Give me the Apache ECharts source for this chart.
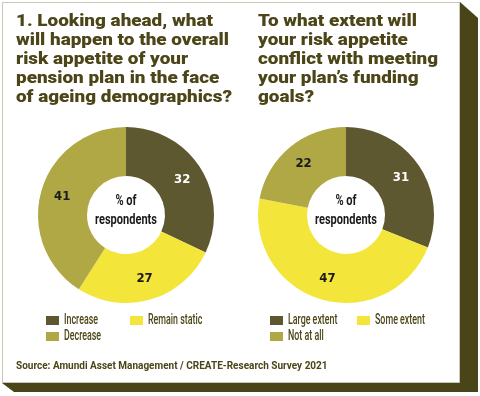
<!DOCTYPE html>
<html><head><meta charset="utf-8">
<script src="https://cdn.jsdelivr.net/npm/echarts@6/dist/echarts.min.js"></script>
<style>html,body{margin:0;padding:0;background:#fff;}#c{width:480px;height:396px;}</style>
</head><body><div id="c"></div>
<script>
const leftCategories = ['Increase', 'Remain static', 'Decrease'];
const leftValues = [32, 27, 41];
const rightCategories = ['Large extent', 'Some extent', 'Not at all'];
const rightValues = [31, 47, 22];
const leftTitleLines = ['1. Looking ahead, what', 'will happen to the overall', 'risk appetite of your', 'pension plan in the face', 'of ageing demographics?'];
const rightTitleLines = ['To what extent will', 'your risk appetite', 'conflict with meeting', 'your plan\u2019s funding', 'goals?'];
const sourceText = 'Source: Amundi Asset Management / CREATE-Research Survey 2021';
const centerLines = ['% of', 'respondents'];

const colors = ['#5d5830', '#f4e53b', '#b0a745'];
const textDark = '#4b4517';

const ctx = document.createElement('canvas').getContext('2d');
function measure(text, font) { ctx.font = font; return ctx.measureText(text).width; }

const titleFont = '900 17px Roboto';
const titleScale = 213 / measure(leftTitleLines[1], titleFont);
const centerFont = 'bold 14px Roboto';
const centerScale = 62 / measure('respondents', centerFont);
const legendFont = '500 14px Roboto';
const legendScale = 34 / measure('Increase', legendFont);

const chart = echarts.init(document.getElementById('c'), null, {renderer: 'canvas'});

function pieSeries(name, cats, vals, cx) {
  return {
    name: name, type: 'pie', center: [cx, 215], radius: [39, 88],
    startAngle: 90, clockwise: true, avoidLabelOverlap: false, silent: true,
    label: {
      position: 'inside', formatter: '{c}',
      fontFamily: '"Liberation Sans Narrow", "DejaVu Sans Condensed", Roboto, sans-serif',
      fontWeight: 'bold', fontSize: 13, color: '#1a1a1a'
    },
    labelLine: {show: false},
    data: cats.map((c, i) => ({
      name: c, value: vals[i],
      itemStyle: {color: colors[i]},
      label: i === 0 ? {color: '#ffffff'} : {}
    }))
  };
}

function titleText(lines, x) {
  return lines.map((t, i) => ({
    type: 'text', x: x, y: 13 + i * 19, scaleX: titleScale,
    style: {text: t, font: titleFont, fill: textDark, verticalAlign: 'top'}
  }));
}

function centerText(cx) {
  return centerLines.map((t, i) => ({
    type: 'text', x: cx, y: 194 + i * 19, scaleX: centerScale,
    style: {text: t, font: centerFont, fill: '#1a1a1a', align: 'center', verticalAlign: 'top'}
  }));
}

function legendItems(cats, positions) {
  const out = [];
  cats.forEach((c, i) => {
    const p = positions[i];
    out.push({type: 'rect', shape: {x: p[0], y: p[1], width: 13, height: 9}, style: {fill: colors[i]}});
    out.push({type: 'text', x: p[0] + 18, y: p[1] + 4.5, scaleX: legendScale,
      style: {text: c, font: legendFont, fill: textDark, verticalAlign: 'middle'}});
  });
  return out;
}

const graphics = [
  {type: 'polygon', shape: {points: [[460, 2], [478, 18], [478, 392], [14, 392], [2, 383]]}, style: {fill: '#4a4419'}, z: -10},
  {type: 'rect', shape: {x: 2.5, y: 2.5, width: 457, height: 380}, style: {fill: '#ffffff', stroke: '#c9c8b6', lineWidth: 1}, z: -9},
  ...titleText(leftTitleLines, 16),
  ...titleText(rightTitleLines, 258),
  ...centerText(126),
  ...centerText(346),
  ...legendItems(leftCategories, [[46, 316], [130, 316], [46, 332]]),
  ...legendItems(rightCategories, [[270, 316], [357, 316], [270, 332]]),
  {type: 'text', x: 16, y: 366, style: {text: sourceText, font: 'bold 10px Roboto', fill: textDark, verticalAlign: 'middle'}}
];

chart.setOption({
  animation: false,
  graphic: graphics,
  series: [
    pieSeries('q1', leftCategories, leftValues, 126),
    pieSeries('q2', rightCategories, rightValues, 346)
  ]
});
</script></body></html>
